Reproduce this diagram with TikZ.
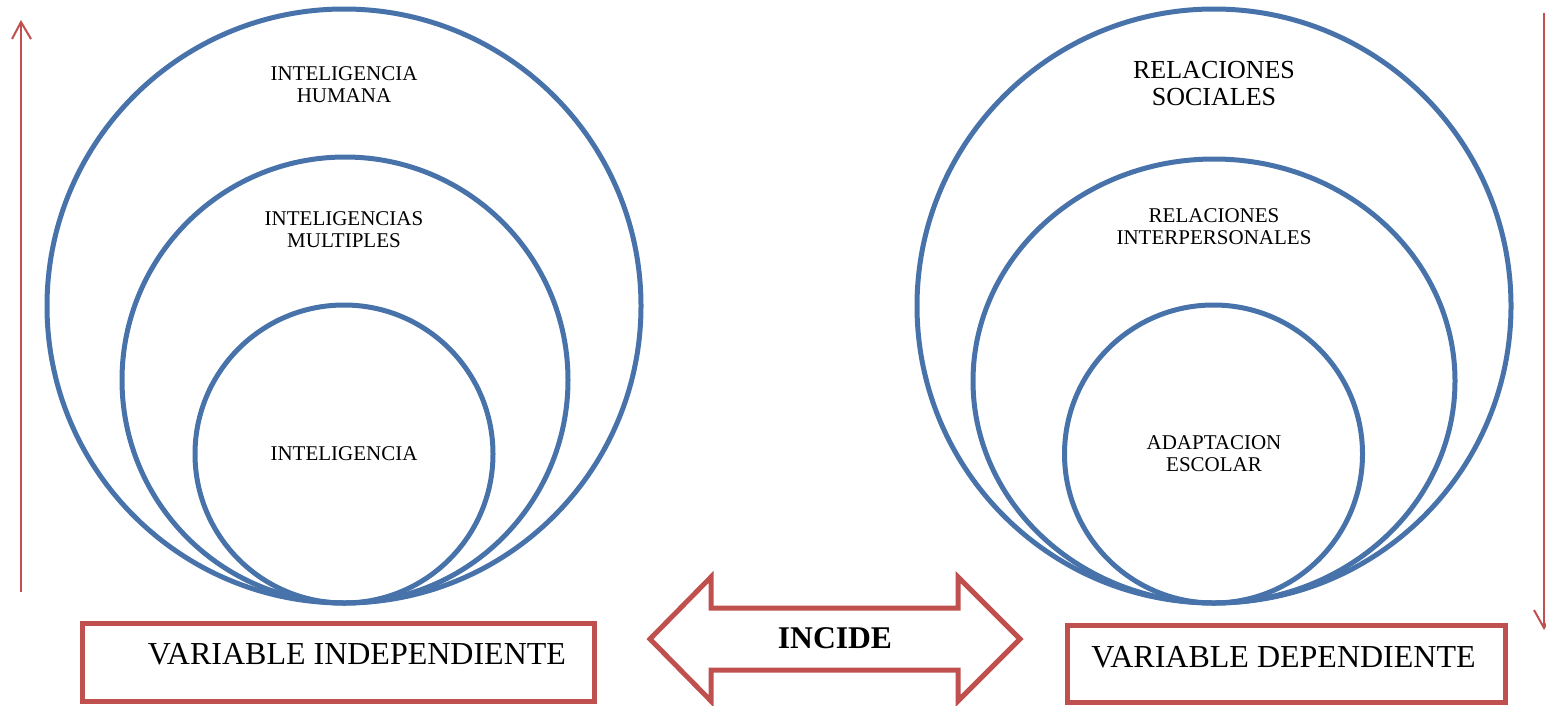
\documentclass[tikz,border=0pt]{standalone}
\usepackage{fontspec}
\setmainfont{Liberation Serif}
\usetikzlibrary{shapes.geometric}
\definecolor{ringblue}{RGB}{71,115,170}
\definecolor{boxred}{RGB}{192,80,77}
\tikzset{
  ring/.style={circle, draw=ringblue, line width=5pt, inner sep=0pt, outer sep=0pt},
  oval/.style={ellipse, draw=ringblue, line width=5pt, inner sep=0pt, outer sep=0pt},
  smalltxt/.style={align=center, inner sep=0pt, font=\fontsize{21}{22.5}\selectfont},
  bigtxt/.style={align=center, inner sep=0pt, font=\fontsize{26}{27}\selectfont},
  vartxt/.style={inner sep=0pt, font=\fontsize{32}{34}\selectfont},
  varbox/.style={draw=boxred, line width=5pt},
  thinarrow/.style={draw=boxred, line width=2pt},
}
\begin{document}
\begin{tikzpicture}[x=1pt,y=-1pt]
\path[use as bounding box] (0,0) rectangle (1546,705);
% left rings
\node[ring, minimum size=594pt] (l1) at (344,306) {};
\node[ring, minimum size=446pt] (l2) at (345,380) {};
\node[ring, minimum size=298pt] (l3) at (344,454) {};
% right rings
\node[ring, minimum size=594pt] (r1) at (1214,306) {};
\node[oval, minimum width=482pt, minimum height=444pt] (r2) at (1214,381) {};
\node[ring, minimum size=298pt] (r3) at (1213.5,454) {};
% ring labels
\node[smalltxt] (tl1) at (344,84.5) {INTELIGENCIA\\HUMANA};
\node[smalltxt] (tl2) at (344,229.5) {INTELIGENCIAS\\MULTIPLES};
\node[smalltxt] (tl3) at (344,454) {INTELIGENCIA};
\node[bigtxt] (tr1) at (1214,84) {RELACIONES\\SOCIALES};
\node[smalltxt] (tr2) at (1214,226.5) {RELACIONES\\INTERPERSONALES};
\node[smalltxt] (tr3) at (1214,453.5) {ADAPTACION\\ESCOLAR};
% variable boxes
\draw[varbox] (82.5,623.5) rectangle (594.5,701.5);
\node[vartxt] (vi) at (357,654) {VARIABLE INDEPENDIENTE};
\draw[varbox] (1067.5,625.5) rectangle (1505,702.5);
\node[vartxt] (vd) at (1283.5,657) {VARIABLE DEPENDIENTE};
% double arrow
\draw[varbox, line join=miter] (650,639) -- (711,577) -- (711,608) -- (958,608) -- (958,577)
  -- (1020,639) -- (958,701) -- (958,670) -- (711,670) -- (711,701) -- cycle;
\node[inner sep=0pt, font=\fontsize{31.6}{33}\selectfont\bfseries] (inc) at (835,638.5) {INCIDE};
% thin side arrows
\coordinate (la0) at (21,592);
\coordinate (la1) at (21,22);
\coordinate (lb1) at (12,39);
\coordinate (lb2) at (31,39);
\draw[thinarrow] (la0) -- (la1);
\draw[thinarrow] (lb1) -- (la1) -- (lb2);
\coordinate (ra0) at (1544,13);
\coordinate (ra1) at (1544,628);
\coordinate (rb1) at (1534,610);
\coordinate (rb2) at (1554,610);
\draw[thinarrow] (ra0) -- (ra1);
\draw[thinarrow] (rb1) -- (ra1) -- (rb2);
\end{tikzpicture}
\end{document}
